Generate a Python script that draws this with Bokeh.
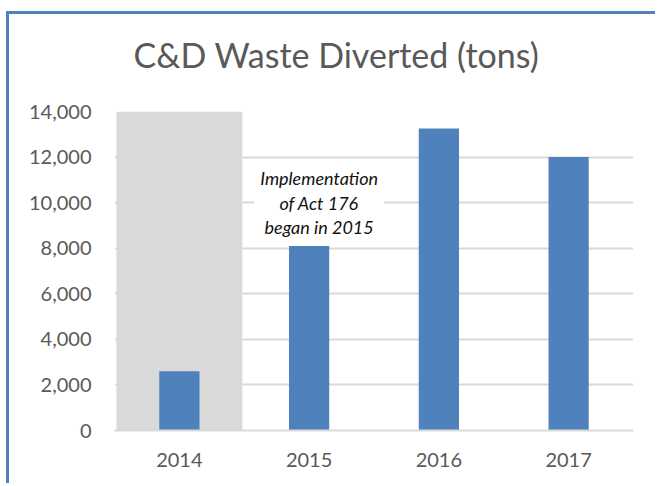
from bokeh.plotting import figure
from bokeh.models import Range1d, SingleIntervalTicker, NumeralTickFormatter, Label, Title
from bokeh.embed import file_html
from bokeh.resources import INLINE

# ---- data ----
categories = ["2014", "2015", "2016", "2017"]
diverted_tons = [2600, 8100, 13250, 12000]
highlight_category = "2014"
y_max = 14000
tick_interval = 2000
title_text = "C&D Waste Diverted (tons)"
note_text = "Implementation\nof Act 176\nbegan in 2015"
note_category = "2015"
note_y = 10000

BAR = "#4F81BD"
BAND = "#D9D9D9"
TXT = "#595959"
FONT = "Lato"

p = figure(
    x_range=categories,
    y_range=Range1d(0, y_max),
    width=649, height=472,
    output_backend="svg",
    toolbar_location=None,
    min_border_left=105, min_border_right=25,
    min_border_top=97, min_border_bottom=56,
)
p.styles = {
    "border-left": "3px solid #4F81BD",
    "border-top": "3px solid #4F81BD",
    "margin-left": "6px",
    "margin-top": "11px",
}

# highlight band behind 2014
p.vbar(x=[highlight_category], top=[y_max], width=0.97, color=BAND, line_color=None)
# bars
p.vbar(x=categories, top=diverted_tons, width=0.31, color=BAR, line_color=None)

# title
p.title.text = title_text
p.title.text_font = FONT
p.title.text_font_size = "34px"
p.title.text_font_style = "normal"
p.title.text_color = TXT
p.title.align = "left"
p.title.offset = 19
p.title.standoff = 35

# spacer between title and plot area
spacer = Title(text=" ", text_font_size="2px", standoff=15)
p.add_layout(spacer, "above")

# annotation
note = Label(
    x=categories.index(note_category) + 0.5, y=note_y,
    x_offset=10,
    text=note_text,
    text_font=FONT, text_font_size="18px", text_font_style="italic",
    text_color="#111111",
    text_align="center", text_baseline="middle",
    background_fill_color="white",
    text_line_height=1.11,
    padding=6,
)
p.add_layout(note)

# axes
p.yaxis.ticker = SingleIntervalTicker(interval=tick_interval)
p.yaxis.formatter = NumeralTickFormatter(format="0,0")
p.yaxis.axis_line_color = None
p.yaxis.major_tick_line_color = None
p.yaxis.minor_tick_line_color = None
p.yaxis.major_label_text_font = FONT
p.yaxis.major_label_text_font_size = "20px"
p.yaxis.major_label_text_color = TXT
p.yaxis.major_label_standoff = 17

p.xaxis.axis_line_color = BAND
p.xaxis.axis_line_width = 2
p.xaxis.major_tick_line_color = None
p.xaxis.minor_tick_line_color = None
p.xaxis.major_label_text_font = FONT
p.xaxis.major_label_text_font_size = "20px"
p.xaxis.major_label_text_color = TXT
p.xaxis.major_label_standoff = 16

p.xgrid.grid_line_color = None
p.ygrid.grid_line_color = BAND
p.ygrid.grid_line_width = 2
p.outline_line_color = None
p.x_range.range_padding = 0

open("out.html", "w").write(file_html(p, INLINE))
